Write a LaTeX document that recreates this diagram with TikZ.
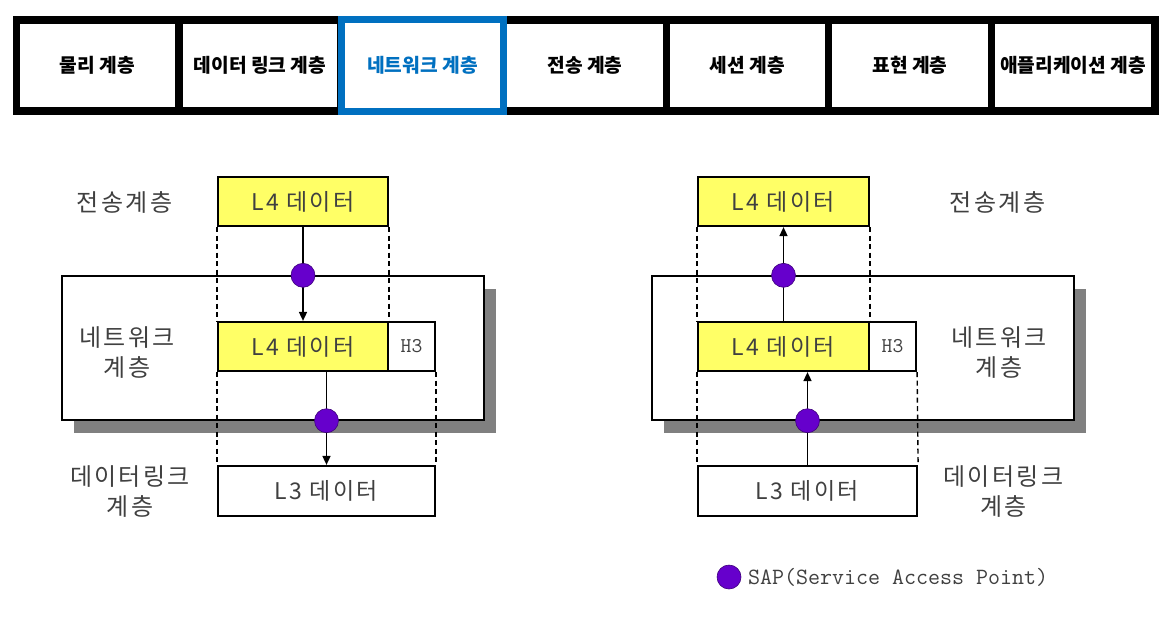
\documentclass[tikz,border=0pt]{standalone}
\usepackage{fontspec}
\newfontfamily\krfont{Noto Sans CJK KR}
\newfontfamily\krspaced{Noto Sans CJK KR}[LetterSpace=10]
\usetikzlibrary{arrows.meta,shadows}
\definecolor{barblue}{RGB}{0,112,192}
\definecolor{boxyellow}{RGB}{255,255,102}
\definecolor{sappurple}{RGB}{102,0,204}
\definecolor{txtgray}{RGB}{64,64,64}
\definecolor{shadowgray}{RGB}{128,128,128}
\begin{document}
\begin{tikzpicture}[x=1pt,y=-1pt,
  cell/.style={fill=white, inner sep=0pt, minimum height=83pt,
    font=\krfont\bfseries\fontsize{19.2}{22}\selectfont},
  bluecell/.style={fill=white, draw=barblue, line width=7pt, inner sep=0pt,
    minimum width=162pt, minimum height=92pt, text=barblue,
    font=\krfont\bfseries\fontsize{19.2}{22}\selectfont},
  layerbox/.style={fill=white, draw=black, line width=1.4pt, inner sep=0pt,
    minimum width=422pt, minimum height=144pt,
    drop shadow={shadow xshift=12pt, shadow yshift=-13pt, fill=shadowgray, opacity=1}},
  databox/.style={draw=black, line width=2.2pt, inner sep=0pt, minimum height=49pt,
    text=txtgray, font=\krspaced\fontsize{23}{26}\selectfont},
  hbox/.style={draw=black, line width=2.2pt, fill=white, inner sep=0pt,
    minimum width=47pt, minimum height=49pt, text=txtgray,
    font=\ttfamily\fontsize{21}{24}\selectfont},
  layerlabel/.style={align=center, text=txtgray, inner sep=0pt,
    font=\krspaced\fontsize{24}{30}\selectfont},
  guide/.style={draw=black, line width=1.4pt, dash pattern=on 5pt off 3.5pt},
  arr/.style={draw=black, line width=1.6pt, -{Triangle[length=9pt,width=8pt]}},
  sap/.style={circle, fill=sappurple, draw=sappurple!60!black, line width=0.6pt,
    minimum size=24pt, inner sep=0pt}
]
\useasboundingbox (0,0) rectangle (1175,633);
\fill[white] (0,0) rectangle (1175,633);

% ---- top bar ----
\fill[black] (13,16) rectangle (1159,115);
\node[cell, minimum width=155pt] (c1) at (97.5,65.5) {\raisebox{-2pt}{물리 계층}};
\node[cell, minimum width=154pt] (c2) at (260,65.5) {\raisebox{-2pt}{데이터 링크 계층}};
\node[cell, minimum width=156pt] (c4) at (585,65.5) {\raisebox{-2pt}{전송 계층}};
\node[cell, minimum width=155pt] (c5) at (747.5,65.5) {\raisebox{-2pt}{세션 계층}};
\node[cell, minimum width=156pt] (c6) at (910,65.5) {\raisebox{-2pt}{표현 계층}};
\node[cell, minimum width=156pt] (c7) at (1073,65.5) {\raisebox{-2pt}{애플리케이션 계층}};
\node[bluecell] (c3) at (422.5,65.5) {\raisebox{-2pt}{네트워크 계층}};

% ---- left diagram ----
\node[layerbox] (netL) at (273,348) {};
\node[databox, fill=boxyellow, minimum width=170pt] (tL4) at (303,201.5) {L4 데이터};
\node[databox, fill=boxyellow, minimum width=170pt] (mL4) at (303,346.5) {L4 데이터};
\node[hbox] (hL) at (411.5,346.5) {H3};
\node[databox, fill=white, minimum width=217pt, minimum height=50pt] (L3L) at (326.5,491) {L3 데이터};

\node[layerlabel] (lblL1) at (124.5,202) {전송계층};
\node[layerlabel] (lblL2) at (127,352.5) {네트워크\\계층};
\node[layerlabel] (lblL3) at (130,492) {데이터링크\\계층};

\draw[guide] (tL4.south west) -- (mL4.north west);
\draw[guide] (tL4.south east) -- (mL4.north east);
\draw[guide] (mL4.south west) -- (L3L.north west);
\draw[guide] (hL.south east) -- (L3L.north east);

\draw[arr] (tL4.south) -- (mL4.north);
\draw[arr] (mL4.south -| L3L.north) -- (L3L.north);
\node[sap] (sapL1) at (tL4.south |- netL.north) {};
\node[sap] (sapL2) at (L3L.north |- netL.south) {};

% ---- right diagram ----
\node[layerbox] (netR) at (863,348) {};
\node[databox, fill=boxyellow, minimum width=171pt] (tR4) at (783.5,201.5) {L4 데이터};
\node[databox, fill=boxyellow, minimum width=171pt] (mR4) at (783.5,346.5) {L4 데이터};
\node[hbox] (hR) at (892.5,346.5) {H3};
\node[databox, fill=white, minimum width=219pt, minimum height=50pt] (L3R) at (807.5,491) {L3 데이터};

\node[layerlabel] (lblR1) at (997.5,202) {전송계층};
\node[layerlabel] (lblR2) at (999,352.5) {네트워크\\계층};
\node[layerlabel] (lblR3) at (1003.5,492) {데이터링크\\계층};

\draw[guide] (tR4.south west) -- (mR4.north west);
\draw[guide] (tR4.south east) -- (mR4.north east);
\draw[guide] (mR4.south west) -- (L3R.north west);
\draw[guide] (hR.south east) -- (L3R.north east);

\draw[arr] (mR4.north) -- (tR4.south);
\draw[arr] (L3R.north) -- (mR4.south -| L3R.north);
\node[sap] (sapR1) at (tR4.south |- netR.north) {};
\node[sap] (sapR2) at (L3R.north |- netR.south) {};

% ---- legend ----
\node[sap] (sapKey) at (729,577) {};
\node[anchor=west, inner sep=0pt, text=txtgray, font=\ttfamily\fontsize{23.3}{26}\selectfont]
  (keyText) at (748,577) {SAP(Service Access Point)};
\end{tikzpicture}
\end{document}
